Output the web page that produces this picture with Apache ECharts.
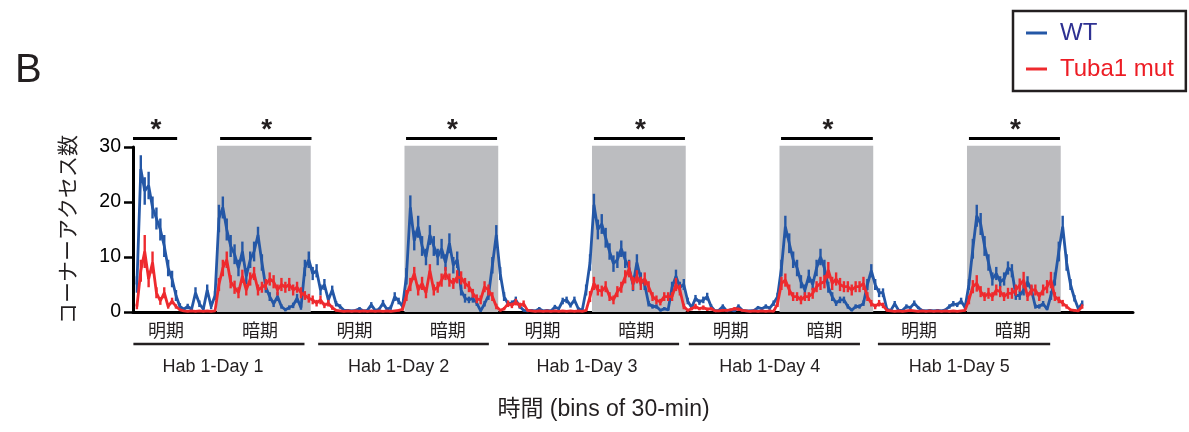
<!DOCTYPE html>
<html><head><meta charset="utf-8">
<script src="https://cdn.jsdelivr.net/npm/echarts@6/dist/echarts.min.js"></script>
<style>html,body{margin:0;padding:0;background:#fff}#c{width:1189px;height:432px}</style>
</head><body><div id="c"></div>
<script>
// Mean corner-access counts per 30-min bin (bins 1..243)
const wtMean = [
  5,26,22,23,19,17,15,12,8,6,3,1,0.5,1,0.5,3.5,1.5,0.5,4,1,3,
  17,19,15,12,10.5,8,11,6.5,9.5,11,14,9,4.5,2.8,1.5,2.8,1,0.4,0.8,1.2,2.5,0.8,8,9.5,
  7,7.5,4,5,2.2,4,1.5,1,0.3,0.3,0.2,0.3,0.6,0.2,0.3,1.3,0.3,0.5,1.6,0.5,0.8,2.8,2,1,
  6.5,19,13,15.5,12,10,14,12,10,11.5,9,12.5,8.5,9.5,4,2.5,2.2,2.5,1.6,0.2,1.5,3,8.5,14,
  7,2.8,1.5,1.6,2.2,1,0.3,0.2,0.3,0.2,0.6,0.2,0.3,0.2,0.9,0.6,2,2.2,1.2,2.2,0.6,0.3,4,9,
  19.5,15,16,13.5,11,8.8,9.5,11.5,9.5,8,5,9,6,5,1.5,1,1,0.3,0.6,0.4,4.5,6.5,4.5,5,
  2,0.8,2.5,1.8,2.2,2.8,1,0.2,0.3,1,0.2,0.4,0.2,1,0.3,0.2,0.2,0.3,0.8,0.6,1,0.7,1.6,2.8,
  8,15.5,12.5,9.5,8,5.5,4,6.5,5,8,10,8,4.5,2.8,1.6,2.2,2.2,1,0.3,1,1,1.6,5,7.5,
  5,3.5,3.5,0.5,0.3,1.5,0.3,0.3,1,0.8,1.6,0.8,0.3,0.2,0.3,0.2,0.3,0.2,0.4,1,1.5,1.3,2,0.8,
  5,11.5,17.5,16,12,9,6,7,5.5,6,8,7.5,3,3,4,5.5,4,1,1,1.5,0.5,3,6,11,
  15.5,9,5,2.5,0.6,1.6
];
const wtSem = [
  1.5,2.5,2.5,2.5,2,2,2,2,1.5,1.5,1,0.6,0.3,0.5,0.3,1,0.6,0.3,1,0.5,0.8,
  2.5,2,2,2,1.8,1.5,1.8,1.5,1.5,1.8,1.5,1.5,1,0.8,0.6,0.8,0.4,0.3,0.4,0.5,0.8,0.4,1.5,1.5,
  1.2,1.2,1,1,0.6,0.8,0.5,0.4,0.2,0.2,0.2,0.2,0.3,0.2,0.2,0.5,0.2,0.3,0.6,0.3,0.4,0.8,0.6,0.5,
  1.5,2.2,1.8,2,1.8,1.5,1.8,1.8,1.5,1.8,1.5,1.8,1.5,1.5,1,0.8,0.6,0.8,0.5,0.2,0.5,0.8,1.5,1.8,
  1.2,0.8,0.5,0.5,0.6,0.4,0.2,0.2,0.2,0.2,0.3,0.2,0.2,0.2,0.4,0.3,0.6,0.6,0.4,0.6,0.3,0.2,1,1.5,
  2,1.8,1.8,1.8,1.5,1.5,1.5,1.5,1.5,1.5,1.2,1.5,1.2,1,0.5,0.4,0.4,0.2,0.3,0.2,1,1.2,1,1,
  0.6,0.4,0.6,0.5,0.6,0.7,0.4,0.2,0.2,0.4,0.2,0.2,0.2,0.4,0.2,0.2,0.2,0.2,0.3,0.3,0.4,0.3,0.5,0.7,
  1.5,2,1.8,1.5,1.5,1.2,1,1.2,1,1.5,1.5,1.5,1,0.8,0.5,0.6,0.6,0.4,0.2,0.4,0.4,0.5,1,1.2,
  1,0.8,0.8,0.3,0.2,0.5,0.2,0.2,0.4,0.3,0.5,0.3,0.2,0.2,0.2,0.2,0.2,0.2,0.2,0.4,0.5,0.4,0.6,0.3,
  1,1.8,2,2,1.8,1.5,1.2,1.2,1,1.2,1.2,1.2,0.8,0.8,1,1,0.8,0.4,0.4,0.5,0.2,0.8,1.2,1.8,
  2,1.5,1,0.6,0.3,0.5
];
const mutMean = [
  1,7.5,11,6,9,3.5,2,3.5,1,2,1,0.4,0.2,0.1,0.2,0.1,0.2,0.1,0.2,0.1,0.2,
  5,8,9.5,5.5,4.5,3.5,6.5,4,6,7,4,4.5,5,6,5.5,4,5,4.5,5,4,4.5,3.5,3,2.5,
  2.2,1.6,2.2,1.2,1.6,0.8,0.3,0.2,0.1,0.2,0.1,0.2,0.1,0.2,0.1,0.2,0.1,0.2,0.1,0.2,0.1,0.2,0.3,0.5,
  3,5,7,4,5.2,3.5,7.5,4,4.5,5.8,7,5.8,5.2,6.4,6.2,5.2,4.6,3.4,2.4,2.2,4.6,4,2.8,1,
  0.3,0.6,1.5,1.2,1.8,1.2,1.5,0.3,0.2,0.1,0.2,0.1,0.2,0.1,0.2,0.1,0.2,0.1,0.2,0.1,0.2,0.1,0.3,2.8,
  5.2,4,3.8,4.6,2.8,2.2,3.7,4.5,6.4,7.8,5.2,6.4,5.2,6,4.6,2.8,2.2,1.8,2.8,2.8,2.8,5,4,1,
  0.3,0.6,1,0.6,0.8,0.5,0.6,0.2,0.2,0.3,0.3,0.4,0.6,0.5,0.3,0.2,0.1,0.2,0.1,0.2,0.1,0.2,0.1,1.5,
  5.2,5.8,4,2.8,2.8,2.2,2.8,2.8,3.4,4.6,5.2,5.5,7.6,5.2,6,5,4.6,4.6,4,4.6,4.6,5.2,2.8,1.6,
  1,1.6,1.2,0.3,0.2,0.1,0.2,0.1,0.2,0.3,0.2,0.1,0.2,0.1,0.2,0.1,0.2,0.1,0.2,0.1,0.2,0.1,0.2,0.3,
  2.2,4.6,5.2,3.7,2.8,3.4,2.8,4,3.7,2.8,3.4,3.4,4,4.9,5.8,2.8,4,4,2.8,4,4.6,5.8,2.8,2.2,
  1.6,1,0.4,0.3,0.2,1
];
const mutSem = [
  0.5,2,3,1.5,2,1,0.7,1,0.4,0.6,0.4,0.2,0.1,0.1,0.1,0.1,0.1,0.1,0.1,0.1,0.1,
  1.2,1.5,1.5,1.2,1.2,1,1.2,1,1.2,1.2,1,1,1,1.2,1.2,1,1.2,1,1.2,1,1,1,0.8,0.8,
  0.8,0.6,0.8,0.5,0.6,0.4,0.2,0.1,0.1,0.1,0.1,0.1,0.1,0.1,0.1,0.1,0.1,0.1,0.1,0.1,0.1,0.1,0.2,0.3,
  1,1.2,1.2,1,1.2,1,1.2,1,1,1.2,1.2,1.2,1,1.2,1.2,1,1,0.8,0.8,0.8,1,1,0.8,0.5,
  0.2,0.3,0.6,0.5,0.6,0.5,0.6,0.2,0.1,0.1,0.1,0.1,0.1,0.1,0.1,0.1,0.1,0.1,0.1,0.1,0.1,0.1,0.2,1,
  1.2,1,1,1,0.8,0.8,1,1,1.2,1.5,1.2,1.2,1.2,1.2,1,0.8,0.8,0.6,0.8,0.8,0.8,1.2,1,0.5,
  0.2,0.3,0.5,0.3,0.4,0.3,0.3,0.1,0.1,0.2,0.2,0.2,0.3,0.3,0.2,0.1,0.1,0.1,0.1,0.1,0.1,0.1,0.1,0.6,
  1.2,1.2,1,0.8,0.8,0.8,0.8,0.8,1,1,1.2,1.2,1.5,1.2,1.2,1.2,1,1,1,1,1,1.2,0.8,0.6,
  0.5,0.6,0.5,0.2,0.1,0.1,0.1,0.1,0.1,0.2,0.1,0.1,0.1,0.1,0.1,0.1,0.1,0.1,0.1,0.1,0.1,0.1,0.1,0.2,
  0.8,1.2,1.5,1,0.8,1,0.8,1,1,0.8,1,1,1,1.2,1.5,0.8,1,1,0.8,1,1.2,1.5,0.8,0.6,
  0.6,0.4,0.2,0.2,0.1,0.4
];
// Dark phases (start bin, length in bins)
const darkStarts = [21.5, 69.5, 117.5, 165.5, 213.5];
const darkLength = 24;
// Significance bars (bin ranges)
const sigRanges = [[0, 11.3], [22.3, 45.7], [69.9, 93.2], [118, 141.3], [165.9, 189.4], [214, 237.3]];
// Phase labels under axis
const phaseLabels = ['明期','暗期','明期','暗期','明期','暗期','明期','暗期','明期','暗期'];
const phaseLabelBins = [8.45, 32.5, 56.7, 80.6, 104.8, 128.8, 153, 177, 201.2, 225.2];
// Day groups
const dayLabels = ['Hab 1-Day 1','Hab 1-Day 2','Hab 1-Day 3','Hab 1-Day 4','Hab 1-Day 5'];
const dayRanges = [[0.1, 43.9], [47.4, 91.1], [96, 139.8], [142.3, 186.1], [190.7, 234.8]];
const dayLabelBins = [20.5, 68, 116.2, 163, 211.5];
const yTicks = [0, 10, 20, 30];

const WT_COLOR = '#2457a6';
const MUT_COLOR = '#ee2a2e';
const LATIN = '"Liberation Sans", Arial, "Noto Sans CJK JP", sans-serif';
const CJK = '"Noto Sans CJK JP", "Liberation Sans", sans-serif';

const wtLine = wtMean.map((v, i) => [i + 1, v]);
const mutLine = mutMean.map((v, i) => [i + 1, v]);
const wtErr = wtMean.map((v, i) => [i + 1, Math.max(0, v - wtSem[i]), v + wtSem[i]]);
const mutErr = mutMean.map((v, i) => [i + 1, Math.max(0, v - mutSem[i]), v + mutSem[i]]);

function errRender(color) {
  return function (params, api) {
    const x = api.value(0);
    const p1 = api.coord([x, api.value(1)]);
    const p2 = api.coord([x, api.value(2)]);
    return { type: 'line', shape: { x1: p1[0], y1: p1[1], x2: p2[0], y2: p2[1] },
      style: { stroke: color, lineWidth: 2.4 } };
  };
}

const chart = echarts.init(document.getElementById('c'), null, { renderer: 'canvas' });
chart.setOption({
  animation: false,
  backgroundColor: '#fff',
  title: { text: 'B', left: 10, top: 46, textStyle: { fontSize: 40, fontWeight: 'normal', color: '#231f20', fontFamily: LATIN } },
  legend: {
    orient: 'vertical', left: 1013, top: 11,
    data: [{ name: 'WT', textStyle: { color: '#2e3192' } }, { name: 'Tuba1 mut', textStyle: { color: '#ed1c24' } }],
    icon: 'rect', itemWidth: 21, itemHeight: 3, itemGap: 12,
    padding: [10, 12, 10, 13],
    borderColor: '#231f20', borderWidth: 2.5,
    textStyle: { fontSize: 24, fontFamily: LATIN, padding: [0, 0, 0, 8] },
    selectedMode: false
  },
  grid: { left: 133, right: 56, top: 147, bottom: 120, containLabel: false },
  xAxis: {
    type: 'value', min: 0, max: 256,
    axisLine: { show: true, lineStyle: { color: '#000', width: 3 } },
    axisTick: { show: false }, axisLabel: { show: false }, splitLine: { show: false }
  },
  yAxis: {
    type: 'value', min: 0, max: 30, interval: 10,
    name: 'コーナーアクセス数', nameLocation: 'middle', nameRotate: 90, nameGap: 55,
    nameTextStyle: { fontSize: 21, color: '#231f20', fontFamily: CJK },
    axisLine: { show: true, lineStyle: { color: '#000', width: 3 } },
    axisTick: { show: true, length: 9, lineStyle: { color: '#000', width: 2.5 } },
    axisLabel: { fontSize: 19.5, color: '#000', margin: 12, fontFamily: LATIN,
      formatter: v => yTicks.indexOf(v) >= 0 ? String(v) : '' },
    splitLine: { show: false }
  },
  graphic: [{
    type: 'text', x: 603.5, y: 410,
    style: { text: '時間 (bins of 30-min)', fill: '#231f20', font: '23px ' + LATIN,
      textAlign: 'center', textVerticalAlign: 'middle' }
  }],
  series: [
    {
      type: 'custom', name: 'dark', z: 1, silent: true,
      data: darkStarts.map(s => [s, s + darkLength]),
      renderItem: (params, api) => {
        const p1 = api.coord([api.value(0), 30.25]);
        const p2 = api.coord([api.value(1), 0]);
        return { type: 'rect', shape: { x: p1[0], y: p1[1], width: p2[0] - p1[0], height: p2[1] - p1[1] },
          style: { fill: '#bcbdc0' } };
      }
    },
    { type: 'custom', name: 'WT err', z: 2, silent: true, data: wtErr, renderItem: errRender(WT_COLOR) },
    { type: 'line', name: 'WT', z: 3, data: wtLine, showSymbol: false, symbol: 'none',
      lineStyle: { color: WT_COLOR, width: 2.8 }, itemStyle: { color: WT_COLOR } },
    { type: 'custom', name: 'mut err', z: 4, silent: true, data: mutErr, renderItem: errRender(MUT_COLOR) },
    { type: 'line', name: 'Tuba1 mut', z: 5, data: mutLine, showSymbol: false, symbol: 'none',
      lineStyle: { color: MUT_COLOR, width: 2.8 }, itemStyle: { color: MUT_COLOR } },
    {
      type: 'custom', name: 'sig', z: 6, silent: true, clip: false,
      data: sigRanges,
      renderItem: (params, api) => {
        const a = api.coord([api.value(0), 30]);
        const b = api.coord([api.value(1), 30]);
        const y = a[1] - 8.5;
        return { type: 'group', children: [
          { type: 'line', shape: { x1: a[0], y1: y, x2: b[0], y2: y }, style: { stroke: '#000', lineWidth: 3 } },
          { type: 'text', style: { text: '*', x: (a[0] + b[0]) / 2 + 1, y: y - 8, textAlign: 'center', textVerticalAlign: 'middle',
            font: 'bold 28px ' + LATIN, fill: '#231f20' } }
        ] };
      }
    },
    {
      type: 'custom', name: 'phase', z: 6, silent: true, clip: false,
      data: phaseLabelBins.map(b => [b, 0]),
      renderItem: (params, api) => {
        const p = api.coord([api.value(0), 0]);
        return { type: 'text', style: { text: phaseLabels[params.dataIndex], x: p[0], y: p[1] + 18,
          textAlign: 'center', textVerticalAlign: 'middle', font: '18px ' + CJK, fill: '#231f20' } };
      }
    },
    {
      type: 'custom', name: 'days', z: 6, silent: true, clip: false,
      data: dayRanges.map((r, i) => [r[0], r[1], dayLabelBins[i]]),
      renderItem: (params, api) => {
        const a = api.coord([api.value(0), 0]);
        const b = api.coord([api.value(1), 0]);
        const c = api.coord([api.value(2), 0]);
        return { type: 'group', children: [
          { type: 'line', shape: { x1: a[0], y1: a[1] + 32, x2: b[0], y2: a[1] + 32 }, style: { stroke: '#231f20', lineWidth: 2.5 } },
          { type: 'text', style: { text: dayLabels[params.dataIndex], x: c[0], y: a[1] + 55, textAlign: 'center',
            textVerticalAlign: 'middle', font: '18px ' + LATIN, fill: '#231f20' } }
        ] };
      }
    }
  ]
});
</script></body></html>
